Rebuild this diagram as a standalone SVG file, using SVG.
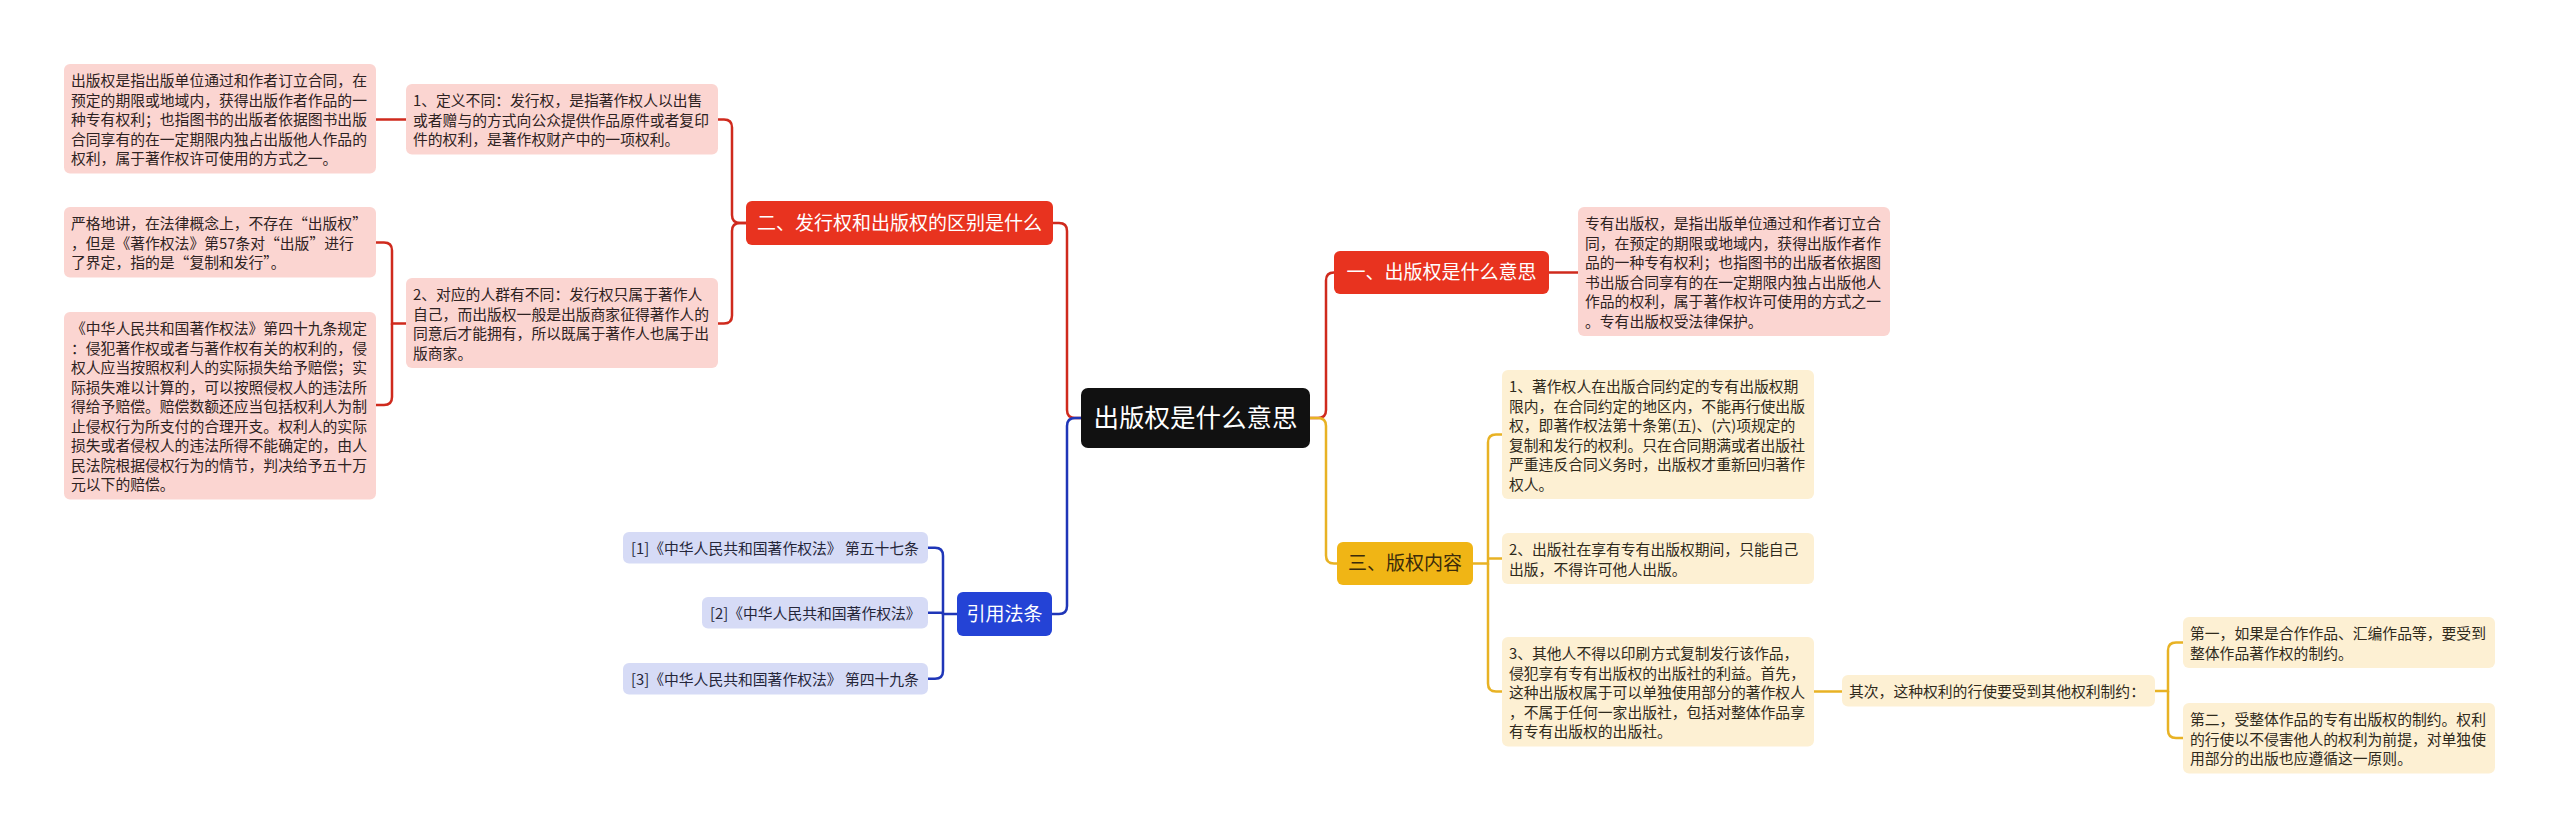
<svg xmlns="http://www.w3.org/2000/svg" width="2560" height="839" viewBox="0 0 2560 839">
<style>
text{font-family:"Noto Sans CJK SC","Noto Sans",sans-serif}
.b{font-size:14.8px}
.m{font-size:19px;text-anchor:middle}
.rt{font-size:25.5px;text-anchor:middle;fill:#fff}
.pk{fill:#fbd5d1}
.pkt{fill:#2e2222}
.yl{fill:#fdf0d3}
.ylt{fill:#2f2a1c}
.bl{fill:#d6dbf6}
.blt{fill:#25263a}
.cr{fill:none;stroke:#cf2a1d;stroke-width:2.5}
.cy{fill:none;stroke:#e8b224;stroke-width:2.5}
.cb{fill:none;stroke:#1f36b8;stroke-width:2.5}
</style>
<rect width="2560" height="839" fill="#fff"/>
<g id="connectors">
<path class="cr" d="M1310,418 H1318 Q1326,418 1326,410 V280.5 Q1326,272.5 1334,272.5"/>
<path class="cy" d="M1310,418 H1318 Q1326,418 1326,426 V555.5 Q1326,563.5 1334,563.5 H1337"/>
<path class="cr" d="M1549,272.5 H1578"/>
<path class="cy" d="M1473,563.5 H1488 V442.5 Q1488,434.5 1496,434.5 H1502"/>
<path class="cy" d="M1488,558.5 H1502"/>
<path class="cy" d="M1488,563.5 V683.5 Q1488,691.5 1496,691.5 H1502"/>
<path class="cy" d="M1814,691.5 H1842"/>
<path class="cy" d="M2155,691 H2168 V650.5 Q2168,642.5 2176,642.5 H2183"/>
<path class="cy" d="M2168,691 V730 Q2168,738 2176,738 H2183"/>
<path class="cr" d="M1081,418 H1075 Q1067,418 1067,410 V231 Q1067,223 1059,223 H1053"/>
<path class="cb" d="M1081,418 H1075 Q1067,418 1067,426 V606 Q1067,614 1059,614 H1052"/>
<path class="cr" d="M746,223 H740 Q732,223 732,215 V127.5 Q732,119.5 724,119.5 H718"/>
<path class="cr" d="M746,223 H740 Q732,223 732,231 V315.5 Q732,323.5 724,323.5 H718"/>
<path class="cr" d="M406,119.5 H376"/>
<path class="cr" d="M406,323.5 H392 V250.5 Q392,242.5 384,242.5 H376"/>
<path class="cr" d="M392,323.5 V397 Q392,405 384,405 H376"/>
<path class="cb" d="M957,614 H943 V555.75 Q943,547.75 935,547.75 H928"/>
<path class="cb" d="M943,612.75 H928"/>
<path class="cb" d="M943,614 V670.75 Q943,678.75 935,678.75 H928"/>
</g>
<g id="root">
<rect x="1081" y="388" width="229" height="60" rx="7" fill="#111"/>
<text class="rt" x="1195.5" y="427.2">出版权是什么意思</text>
</g>
<g id="b1">
<rect x="1334" y="251" width="215" height="43" rx="6" fill="#e8331f"/>
<text class="m" x="1441.5" y="279.3" fill="#fff">一、出版权是什么意思</text>
</g>
<g id="d1">
<rect x="1578" y="207" width="312" height="129" rx="6" class="pk"/>
<text class="b pkt"><tspan x="1585" y="229">专有出版权，是指出版单位通过和作者订立合</tspan><tspan x="1585" y="248.5">同，在预定的期限或地域内，获得出版作者作</tspan><tspan x="1585" y="268">品的一种专有权利；也指图书的出版者依据图</tspan><tspan x="1585" y="287.5">书出版合同享有的在一定期限内独占出版他人</tspan><tspan x="1585" y="307">作品的权利，属于著作权许可使用的方式之一</tspan><tspan x="1585" y="326.5">。专有出版权受法律保护。</tspan></text>
</g>
<g id="b3">
<rect x="1337" y="542" width="136" height="43" rx="6" fill="#f0b515"/>
<text class="m" x="1405" y="570.3" fill="#3b2b0a">三、版权内容</text>
</g>
<g id="r1">
<rect x="1502" y="370" width="312" height="129" rx="6" class="yl"/>
<text class="b ylt"><tspan x="1509" y="392">1、著作权人在出版合同约定的专有出版权期</tspan><tspan x="1509" y="411.5">限内，在合同约定的地区内，不能再行使出版</tspan><tspan x="1509" y="431">权，即著作权法第十条第(五)、(六)项规定的</tspan><tspan x="1509" y="450.5">复制和发行的权利。只在合同期满或者出版社</tspan><tspan x="1509" y="470">严重违反合同义务时，出版权才重新回归著作</tspan><tspan x="1509" y="489.5">权人。</tspan></text>
</g>
<g id="r2">
<rect x="1502" y="533" width="312" height="51" rx="6" class="yl"/>
<text class="b ylt"><tspan x="1509" y="555">2、出版社在享有专有出版权期间，只能自己</tspan><tspan x="1509" y="574.5">出版，不得许可他人出版。</tspan></text>
</g>
<g id="r3">
<rect x="1502" y="637" width="312" height="109.5" rx="6" class="yl"/>
<text class="b ylt"><tspan x="1509" y="659">3、其他人不得以印刷方式复制发行该作品，</tspan><tspan x="1509" y="678.5">侵犯享有专有出版权的出版社的利益。首先，</tspan><tspan x="1509" y="698">这种出版权属于可以单独使用部分的著作权人</tspan><tspan x="1509" y="717.5">，不属于任何一家出版社，包括对整体作品享</tspan><tspan x="1509" y="737">有专有出版权的出版社。</tspan></text>
</g>
<g id="r4">
<rect x="1842" y="675" width="313" height="31.5" rx="6" class="yl"/>
<text class="b ylt" x="1849" y="697">其次，这种权利的行使要受到其他权利制约：</text>
</g>
<g id="s1">
<rect x="2183" y="617" width="312" height="51" rx="6" class="yl"/>
<text class="b ylt"><tspan x="2190" y="639">第一，如果是合作作品、汇编作品等，要受到</tspan><tspan x="2190" y="658.5">整体作品著作权的制约。</tspan></text>
</g>
<g id="s2">
<rect x="2183" y="703" width="312" height="70.5" rx="6" class="yl"/>
<text class="b ylt"><tspan x="2190" y="725">第二，受整体作品的专有出版权的制约。权利</tspan><tspan x="2190" y="744.5">的行使以不侵害他人的权利为前提，对单独使</tspan><tspan x="2190" y="764">用部分的出版也应遵循这一原则。</tspan></text>
</g>
<g id="b2">
<rect x="746" y="201" width="307" height="44" rx="6" fill="#e8331f"/>
<text class="m" x="899.5" y="229.8" fill="#fff">二、发行权和出版权的区别是什么</text>
</g>
<g id="l2">
<rect x="406" y="84" width="312" height="70.5" rx="6" class="pk"/>
<text class="b pkt"><tspan x="413" y="106">1、定义不同：发行权，是指著作权人以出售</tspan><tspan x="413" y="125.5">或者赠与的方式向公众提供作品原件或者复印</tspan><tspan x="413" y="145">件的权利，是著作权财产中的一项权利。</tspan></text>
</g>
<g id="l1">
<rect x="64" y="64" width="312" height="109.5" rx="6" class="pk"/>
<text class="b pkt"><tspan x="71" y="86">出版权是指出版单位通过和作者订立合同，在</tspan><tspan x="71" y="105.5">预定的期限或地域内，获得出版作者作品的一</tspan><tspan x="71" y="125">种专有权利；也指图书的出版者依据图书出版</tspan><tspan x="71" y="144.5">合同享有的在一定期限内独占出版他人作品的</tspan><tspan x="71" y="164">权利，属于著作权许可使用的方式之一。</tspan></text>
</g>
<g id="l4">
<rect x="406" y="278" width="312" height="90" rx="6" class="pk"/>
<text class="b pkt"><tspan x="413" y="300">2、对应的人群有不同：发行权只属于著作人</tspan><tspan x="413" y="319.5">自己，而出版权一般是出版商家征得著作人的</tspan><tspan x="413" y="339">同意后才能拥有，所以既属于著作人也属于出</tspan><tspan x="413" y="358.5">版商家。</tspan></text>
</g>
<g id="l3">
<rect x="64" y="207" width="312" height="70.5" rx="6" class="pk"/>
<text class="b pkt"><tspan x="71" y="229">严格地讲，在法律概念上，不存在“出版权”</tspan><tspan x="71" y="248.5">，但是《著作权法》第57条对“出版”进行</tspan><tspan x="71" y="268">了界定，指的是“复制和发行”。</tspan></text>
</g>
<g id="l5">
<rect x="64" y="312" width="312" height="187.5" rx="6" class="pk"/>
<text class="b pkt"><tspan x="71" y="334">《中华人民共和国著作权法》第四十九条规定</tspan><tspan x="71" y="353.5">：侵犯著作权或者与著作权有关的权利的，侵</tspan><tspan x="71" y="373">权人应当按照权利人的实际损失给予赔偿；实</tspan><tspan x="71" y="392.5">际损失难以计算的，可以按照侵权人的违法所</tspan><tspan x="71" y="412">得给予赔偿。赔偿数额还应当包括权利人为制</tspan><tspan x="71" y="431.5">止侵权行为所支付的合理开支。权利人的实际</tspan><tspan x="71" y="451">损失或者侵权人的违法所得不能确定的，由人</tspan><tspan x="71" y="470.5">民法院根据侵权行为的情节，判决给予五十万</tspan><tspan x="71" y="490">元以下的赔偿。</tspan></text>
</g>
<g id="b4">
<rect x="957" y="592" width="95" height="44" rx="6" fill="#2443d6"/>
<text class="m" x="1004.5" y="620.8" fill="#fff">引用法条</text>
</g>
<g id="c1">
<rect x="623" y="532" width="305" height="31.5" rx="6" class="bl"/>
<text class="b blt" x="631" y="554">[1]《中华人民共和国著作权法》 第五十七条</text>
</g>
<g id="c2">
<rect x="702" y="597" width="226" height="31.5" rx="6" class="bl"/>
<text class="b blt" x="710" y="619">[2]《中华人民共和国著作权法》</text>
</g>
<g id="c3">
<rect x="623" y="663" width="305" height="31.5" rx="6" class="bl"/>
<text class="b blt" x="631" y="685">[3]《中华人民共和国著作权法》 第四十九条</text>
</g>
</svg>
